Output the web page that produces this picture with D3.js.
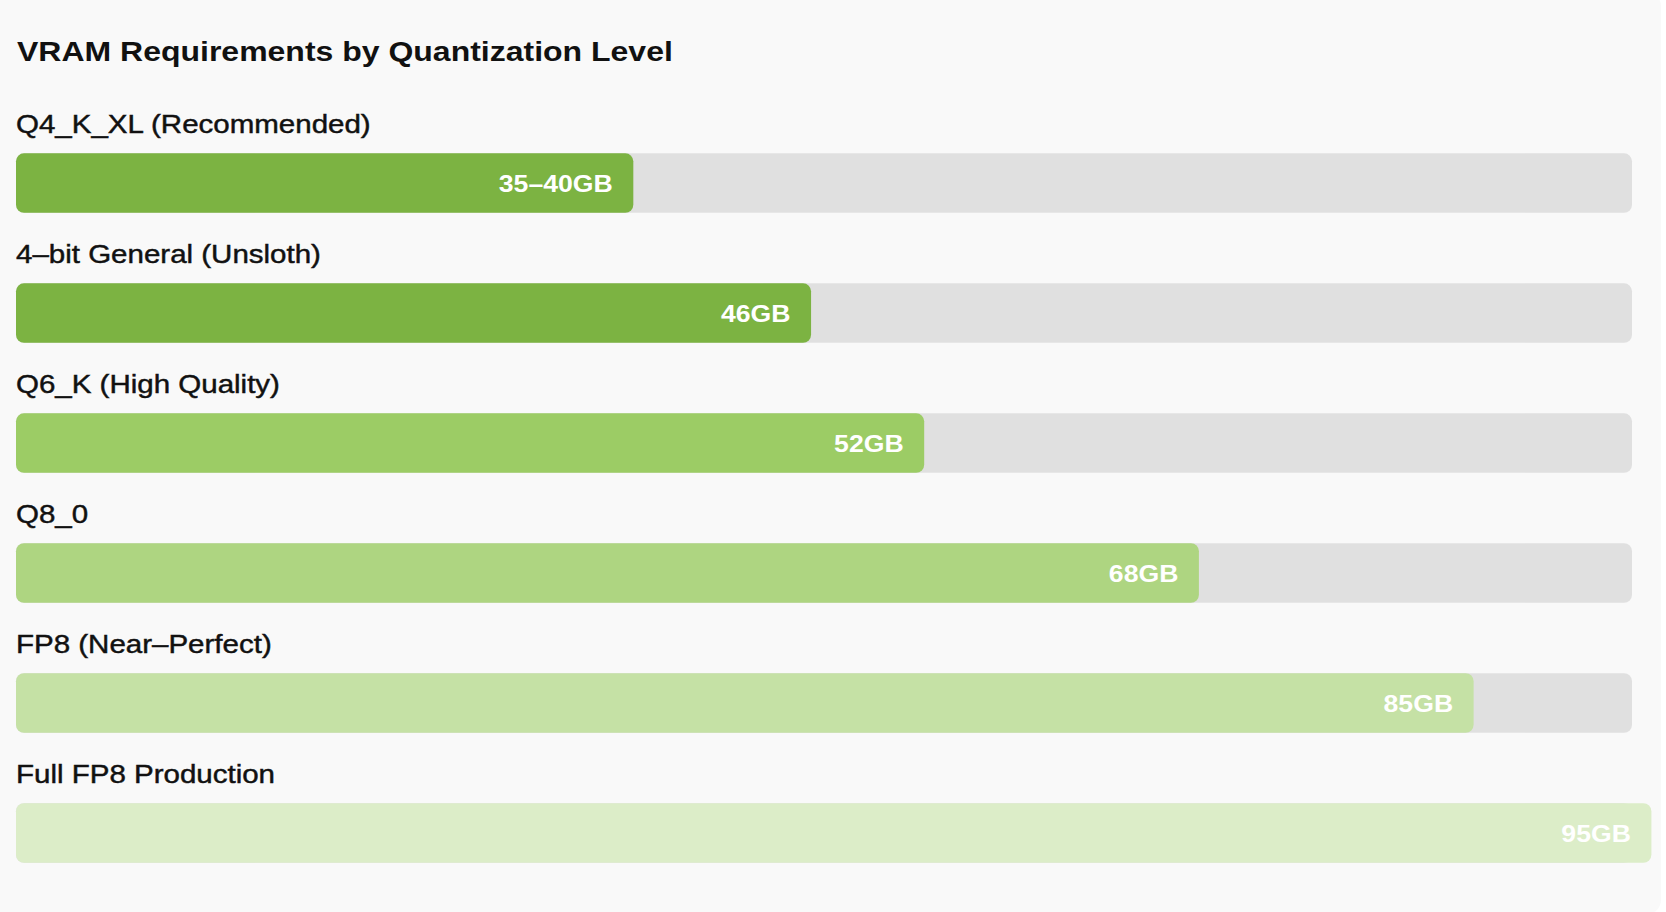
<!DOCTYPE html>
<html>
<head>
<meta charset="utf-8">
<script src="https://cdn.jsdelivr.net/npm/d3@7"></script>
<style>
  html, body { margin: 0; padding: 0; background: #ffffff; }
  svg { display: block; }
</style>
</head>
<body>
<svg id="chart" width="1666" height="912"></svg>
<script>
// ---- data ----
const title = "VRAM Requirements by Quantization Level";
const categories = [
  "Q4_K_XL (Recommended)",
  "4–bit General (Unsloth)",
  "Q6_K (High Quality)",
  "Q8_0",
  "FP8 (Near–Perfect)",
  "Full FP8 Production"
];
const valueLabels = ["35–40GB", "46GB", "52GB", "68GB", "85GB", "95GB"];
// bar fill, percent of the track
const fillPercent = [38.2, 49.2, 56.2, 73.2, 90.2, 101.2];
const barColors = ["#7cb342", "#7cb342", "#9ccc65", "#aed581", "#c5e1a5", "#dcedc8"];

// ---- layout ----
const svg = d3.select("#chart");
const font = "'Liberation Sans', Arial, Helvetica, sans-serif";

svg.append("rect")
  .attr("x", -20).attr("y", -8)
  .attr("width", 1681).attr("height", 922)
  .attr("rx", 14).attr("ry", 14)
  .attr("fill", "#f9f9f9");

const x = d3.scaleLinear().domain([0, 100]).range([16, 1632]);
const y = d3.scaleBand()
  .domain(categories)
  .range([153.3, 862.8])
  .paddingInner(0.542)
  .paddingOuter(0);

// title
svg.append("text")
  .attr("transform", "translate(17,60.8) scale(1.185,1)")
  .attr("font-family", font)
  .attr("font-weight", 700)
  .attr("font-size", 27)
  .attr("fill", "#111111")
  .text(title);

const rows = svg.selectAll("g.row")
  .data(categories.map((c, i) => ({
    cat: c, label: valueLabels[i], pct: fillPercent[i], color: barColors[i]
  })))
  .join("g").attr("class", "row");

// category labels
rows.append("text")
  .attr("transform", d => `translate(16,${y(d.cat) - 20.3}) scale(1.135,1)`)
  .attr("font-family", font)
  .attr("font-size", 26)
  .attr("fill", "#111111")
  .attr("stroke", "#111111")
  .attr("stroke-width", 0.45)
  .text(d => d.cat);

// tracks
rows.append("rect")
  .attr("x", x(0))
  .attr("y", d => y(d.cat))
  .attr("width", x(100) - x(0))
  .attr("height", y.bandwidth())
  .attr("rx", 8).attr("ry", 8)
  .attr("fill", "#e0e0e0");

// bars
rows.append("rect")
  .attr("x", x(0))
  .attr("y", d => y(d.cat))
  .attr("width", d => x(d.pct) - x(0))
  .attr("height", y.bandwidth())
  .attr("rx", 8).attr("ry", 8)
  .attr("fill", d => d.color);

// value labels
rows.append("text")
  .attr("transform", d => `translate(${x(d.pct) - 20.5},${y(d.cat) + y.bandwidth() / 2 + 8.7}) scale(1.11,1)`)
  .attr("text-anchor", "end")
  .attr("font-family", font)
  .attr("font-weight", 700)
  .attr("font-size", 24)
  .attr("fill", "#ffffff")
  .text(d => d.label);
</script>
</body>
</html>
